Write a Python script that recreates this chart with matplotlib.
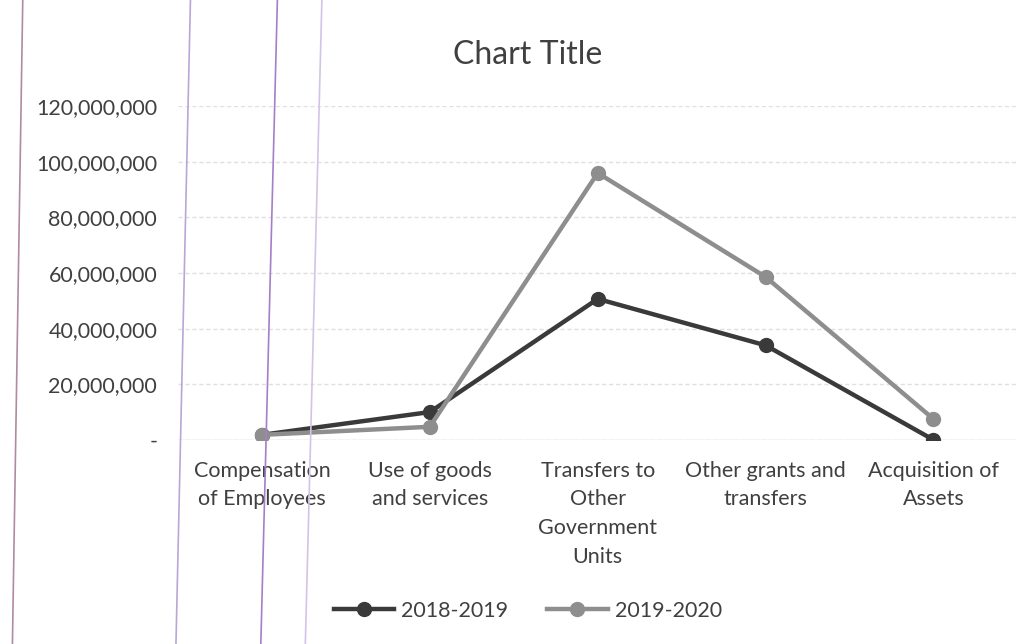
import matplotlib
matplotlib.use("Agg")
import matplotlib.pyplot as plt
from matplotlib.lines import Line2D

categories = ["Compensation\nof Employees", "Use of goods\nand services",
              "Transfers to\nOther\nGovernment\nUnits", "Other grants and\ntransfers",
              "Acquisition of\nAssets"]
series_names = ["2018-2019", "2019-2020"]
values_2018 = [1.8e6, 10.0e6, 50.7e6, 34.0e6, 0.0]
values_2019 = [1.8e6, 4.7e6, 96.0e6, 58.6e6, 7.5e6]
yticks = [0, 20e6, 40e6, 60e6, 80e6, 100e6, 120e6]
ytick_labels = ["-", "20,000,000", "40,000,000", "60,000,000", "80,000,000",
                "100,000,000", "120,000,000"]

plt.rcParams['font.family'] = ['Lato', 'DejaVu Sans']
fig = plt.figure(figsize=(10.35, 6.44), dpi=100)
ax = fig.add_axes([0.172, 0.317, 0.811, 0.518])

colors = ["#3a3a3a", "#8e8e8e"]
x = list(range(len(categories)))
for vals, name, c in zip([values_2018, values_2019], series_names, colors):
    ax.plot(x, vals, color=c, lw=3.2, marker='o', ms=10, mfc=c, mec=c, label=name,
            solid_capstyle='round')

ax.set_xlim(-0.5, len(categories) - 0.5)
ax.set_ylim(0, 120e6)
ax.set_yticks(yticks)
ax.set_yticklabels(ytick_labels, fontsize=15.5, color="#404040")
ax.set_xticks(x)
ax.set_xticklabels(categories, fontsize=15.5, color="#404040", linespacing=1.55)
ax.tick_params(axis='both', length=0)
ax.tick_params(axis='y', pad=15)
ax.tick_params(axis='x', pad=15)
ax.grid(axis='y', color="#e0e0e0", lw=1, ls=(0, (3, 2)))
ax.set_axisbelow(True)
for s in ax.spines.values():
    s.set_visible(False)
ax.axhline(0, color="#d8d8d8", lw=1, zorder=0)

fig.text(0.51, 0.915, "Chart Title", ha='center', va='center', fontsize=23, color="#404040")

handles = [Line2D([0], [0], color=c, lw=3.2, marker='o', ms=10) for c in colors]
fig.legend(handles, series_names, loc='center', bbox_to_anchor=(0.51, 0.052), ncol=2,
           frameon=False, fontsize=15.5, handlelength=2.8, handletextpad=0.35,
           columnspacing=1.8, labelcolor="#404040")

# faint vertical screen lines visible in the photo
for (xt, xb), c in [((0.022, 0.012), "#b08aa0"), ((0.184, 0.170), "#b9a6d6"),
                    ((0.268, 0.252), "#a47fc8"), ((0.311, 0.295), "#d2c4e6")]:
    fig.add_artist(Line2D([xt, xb], [1, 0], transform=fig.transFigure, color=c, lw=1.2))

fig.savefig("out.png", dpi=100, facecolor="white")
